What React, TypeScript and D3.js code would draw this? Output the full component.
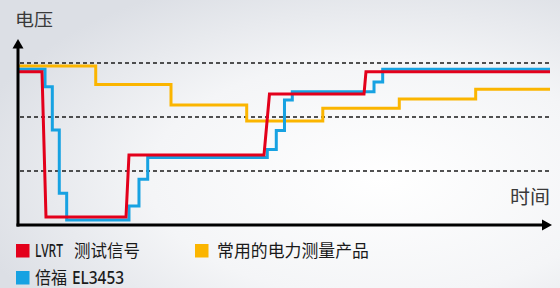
import React from "react";
import * as d3 from "d3";

// voltage (percent of nominal), time in arbitrary units 0..100
const gridLevels = [25, 50, 75];

const lvrtTime = [0.2, 4.51, 5.26, 20.3, 20.86, 46.24, 47.27, 65.04, 65.41, 100];
const lvrtVolt = [71.0, 71.0, 3.7, 3.7, 32.4, 32.4, 60.6, 60.6, 71.0, 71.0];

// step series: each level holds from its time until the next one
const becTime = [0.2, 5.08, 6.45, 7.76, 9.15, 20.86, 22.74, 24.38, 46.86, 48.55, 50.09, 51.56, 66.92, 68.55, 100];
const becVolt = [72.1, 64.0, 44.0, 14.7, 2.3, 8.8, 21.2, 31.3, 35.0, 43.8, 57.9, 61.7, 66.2, 72.1, 72.1];

const commonTime = [0.2, 14.61, 28.76, 42.99, 57.29, 71.67, 86.03, 100];
const commonVolt = [73.6, 65.1, 55.6, 48.2, 54.0, 58.3, 62.8, 62.8];

const RED = "#e3001b";
const BLUE = "#17a2e2";
const YELLOW = "#fbb500";

const W = 560;
const H = 288;
const CJK = "'Noto Sans CJK SC', 'Noto Sans', sans-serif";
const LATIN = "'Noto Sans', 'DejaVu Sans', sans-serif";

type Pt = [number, number];

export default function App() {
  const x = d3.scaleLinear().domain([0, 100]).range([18, 550]);
  const y = d3.scaleLinear().domain([0, 100]).range([225, 9]);

  const lineFn = d3
    .line<Pt>()
    .x((d) => x(d[0]))
    .y((d) => y(d[1]));
  const stepLine = d3
    .line<Pt>()
    .x((d) => x(d[0]))
    .y((d) => y(d[1]))
    .curve(d3.curveStepAfter);

  const lvrt = lvrtTime.map((t, i) => [t, lvrtVolt[i]] as Pt);
  const bec = becTime.map((t, i) => [t, becVolt[i]] as Pt);
  const common = commonTime.map((t, i) => [t, commonVolt[i]] as Pt);

  const x0 = x(0);
  const y0 = y(0);

  return (
    <svg
      width={W}
      height={H}
      style={{ position: "absolute", left: 0, top: 0, display: "block" }}
    >
      <defs>
        <radialGradient id="bg" cx="0.68" cy="0.62" r="0.75">
          <stop offset="0" stopColor="#ffffff" />
          <stop offset="0.55" stopColor="#f4f5f7" />
          <stop offset="1" stopColor="#dcdfe5" />
        </radialGradient>
      </defs>
      <rect width={W} height={H} fill="url(#bg)" />

      {/* dashed reference levels */}
      {gridLevels.map((g) => (
        <line
          key={g}
          x1={x0 + 2}
          x2={551}
          y1={y(g)}
          y2={y(g)}
          stroke="#1a1a1a"
          strokeWidth={1.5}
          strokeDasharray="4,3"
        />
      ))}

      {/* series */}
      <path d={stepLine(common) ?? ""} fill="none" stroke={YELLOW} strokeWidth={3} />
      <path d={stepLine(bec) ?? ""} fill="none" stroke={BLUE} strokeWidth={3} />
      <path d={lineFn(lvrt) ?? ""} fill="none" stroke={RED} strokeWidth={3} />

      {/* axes */}
      <line x1={x0} x2={x0} y1={y0 + 1.5} y2={46} stroke="#000" strokeWidth={3} />
      <path d={`M${x0},39 L${x0 - 5.5},48.5 L${x0 + 5.5},48.5 Z`} fill="#000" />
      <line x1={x0 - 1.5} x2={545} y1={y0} y2={y0} stroke="#000" strokeWidth={3} />
      <path d={`M552,${y0} L542,${y0 - 5.5} L542,${y0 + 5.5} Z`} fill="#000" />

      <text x={15} y={26} fontFamily={CJK} fontSize={17} fill="#3a3a3a" textLength={38} lengthAdjust="spacingAndGlyphs">
        电压
      </text>
      <text x={510} y={204} fontFamily={CJK} fontSize={19} fill="#3a3a3a" textLength={40} lengthAdjust="spacingAndGlyphs">
        时间
      </text>

      {/* legend */}
      <rect x={16} y={244} width={13.5} height={13.5} fill={RED} />
      <text x={35} y={257.3} fontFamily={LATIN} fontWeight={500} fontSize={18.5} fill="#1a1a1a" textLength={28} lengthAdjust="spacingAndGlyphs">
        LVRT
      </text>
      <text x={74} y={256.5} fontFamily={CJK} fontSize={17} fill="#1a1a1a" textLength={66} lengthAdjust="spacingAndGlyphs">
        测试信号
      </text>

      <rect x={195} y={244} width={13.5} height={13.5} fill={YELLOW} />
      <text x={217} y={256.5} fontFamily={CJK} fontSize={17} fill="#1a1a1a" textLength={152} lengthAdjust="spacingAndGlyphs">
        常用的电力测量产品
      </text>

      <rect x={16} y={271} width={13.5} height={13.5} fill={BLUE} />
      <text x={35} y={283.5} fontFamily={CJK} fontSize={17} fill="#1a1a1a" textLength={32} lengthAdjust="spacingAndGlyphs">
        倍福
      </text>
      <text x={72} y={284.3} fontFamily={LATIN} fontWeight={500} fontSize={18.5} fill="#1a1a1a" textLength={52} lengthAdjust="spacingAndGlyphs">
        EL3453
      </text>
    </svg>
  );
}
